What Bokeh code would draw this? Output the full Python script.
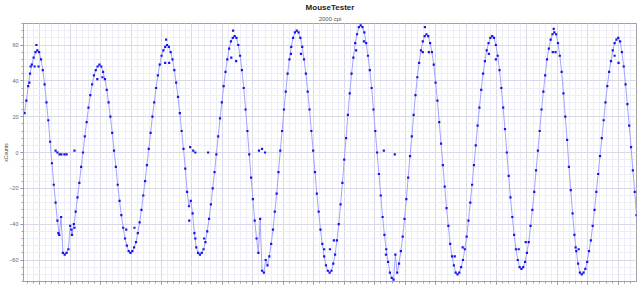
from bokeh.plotting import figure
from bokeh.models import Title, SingleIntervalTicker, Range1d, ColumnDataSource, CustomJSTickFormatter
from bokeh.embed import file_html
from bokeh.resources import INLINE

# ---- data ----
t_start = 950      # ms, time of first sample
t_step = 6         # ms between samples

x_counts = [
    22, 29, 37, 44, 49, 53, 56, 57,
    56, 52, 46, 38, 28, 18, 6, -6, -18, -28, -38, -46, -36, -56, -57,
    -56, -54, -41, -46, -40, -33, -25, -17, -8, 0, 9, 17, 25, 32, 38, 43, 46, 48, 49,
    48, 45, 41, 35, 28, 20, 11, 1, -8, -18, -27, -35, -42, -48, -52, -55, -56,
    -55, -53, -50, -45, -39, -32, -24, -16, -7, 2, 11, 20, 28, 36, 43, 49, 54, 57, 59, 60,
    59, 56, 52, 46, 39, 31, 22, 12, 2, -9, -22, -30, -27, -34, -45, -53, -56, -57,
    -56, -54, -50, -44, -37, -29, -20, -11, -1, 9, 19, 28, 37, 45, 52, 58, 62, 64, 65,
    64, 60, 54, 46, 36, 24, 12, -1, -14, -26, -38, -48, -56, -37, -66, -67,
    -60, -63, -58, -51, -43, -33, -23, -11, 1, 12, 24, 34, 44, 52, 59, 64, 67, 68,
    67, 64, 59, 52, 44, 34, 24, 12, 1, -11, -23, -33, -43, -51, -58, -63, -66, -67,
    -66, -62, -57, -49, -40, -29, -17, -4, 8, 21, 33, 44, 53, 61, 66, 70, 71,
    70, 67, 61, 54, 46, 36, 24, 12, 0, -12, -24, -36, -46, -54, -61, -67, -70, -71,
    -57, -67, -62, -55, -47, -37, -26, -14, -2, 9, 21, 32, 42, 50, 57, 62, 65, 66,
    65, 61, 56, 49, 39, 29, 17, 5, -7, -19, -31, -41, -51, -58, -63, -67, -68,
    -67, -64, -60, -54, -47, -38, -28, -18, -7, 4, 15, 25, 35, 44, 51, 57, 61, 64, 65,
    64, 60, 54, 46, 36, 25, 13, 0, -13, -25, -36, -46, -54, -60, -64, -65,
    -64, -61, -56, -50, -41, -32, -22, -10, 1, 12, 24, 34, 43, 52, 58, 63, 66, 67,
    66, 61, 54, 45, 33, 20, 7, -8, -21, -34, -46, -55, -62, -67, -68,
    -67, -65, -61, -55, -49, -41, -32, -22, -12, -2, 8, 18, 28, 37, 45, 51, 57, 61, 63, 64,
    62, 56, 48, 38, 27, 15, 3, -10, -22, -35, -45,
]

# stray samples off the main curve
stray_time = [966, 970, 983, 989, 996, 1061, 1104, 1114, 1189, 1206, 1284, 1311,
              1412, 1415, 1425, 1491, 1511, 1540, 1629, 1635, 1645, 1825, 1858,
              1934, 1953, 1966, 2039, 2065, 2137, 2258, 2265, 2278, 2363, 2389,
              2475, 2498, 2573, 2596, 2685, 2688, 2694, 2760, 2770, 2888, 2901]
stray_counts = [39, 48, 48, 60, 48, -45, -43, -42, 41, 42, -43, -42,
                50, 63, 50, -38, -48, -48, 53, 68, 51, 55, 55,
                -54, -54, -49, 57, 62, -57, 56, 70, 56, -58, -53,
                55, 52, -54, -50, 56, 69, 56, -53, -54, 54, 50]

# samples sitting near zero
zero_time = [1052, 1058, 1065, 1071, 1081, 1088, 1114, 1494, 1504, 1511, 1553,
             1720, 1730, 1740, 2130, 2166]
zero_counts = [1, 0, -1, -1, -1, -1, 1, 3, 1, 0, 0, 1, 2, 0, 1, -1]

time_ms = [t_start + t_step * i for i in range(len(x_counts))]

# ---- figure ----
FONT = "Liberation Sans"
p = figure(width=642, height=286, output_backend="svg", toolbar_location=None,
           title=None,
           x_range=Range1d(946.6, 2959.9), y_range=Range1d(-72, 72),
           min_border_left=22, min_border_right=6, min_border_bottom=5,
           min_border_top=0, background_fill_color="white",
           border_fill_color="white")

p.add_layout(Title(text="2000 cpi", align="center", text_font=FONT,
                   text_font_size="6px", text_font_style="normal",
                   text_color="#555555", standoff=3), "above")
p.add_layout(Title(text="MouseTester", align="center", text_font=FONT,
                   text_font_size="8px", text_font_style="bold",
                   text_color="#222222", standoff=1), "above")

p.outline_line_color = "#a0a0a0"
p.outline_line_width = 1

# axes
p.xaxis.ticker = SingleIntervalTicker(interval=100, num_minor_ticks=5)
p.yaxis.ticker = SingleIntervalTicker(interval=20, num_minor_ticks=5)
for ax in (p.xaxis[0], p.yaxis[0]):
    ax.axis_line_color = "#a0a0a0"
    ax.major_tick_line_color = "#808080"
    ax.minor_tick_line_color = "#a0a0a0"
    ax.major_tick_in = 0
    ax.minor_tick_in = 0
    ax.major_tick_out = 3
    ax.minor_tick_out = 2
p.xaxis.formatter = CustomJSTickFormatter(code="return '';")
p.xaxis.major_label_standoff = 0
p.yaxis.major_label_text_font = FONT
p.yaxis.major_label_text_font_size = "5.5px"
p.yaxis.major_label_text_color = "#666666"
p.yaxis.major_label_standoff = 2
p.yaxis.axis_label = "xCounts"
p.yaxis.axis_label_text_font = FONT
p.yaxis.axis_label_text_font_size = "5px"
p.yaxis.axis_label_text_font_style = "normal"
p.yaxis.axis_label_text_color = "#404040"
p.yaxis.axis_label_standoff = -3

# grids
for g in (p.xgrid[0], p.ygrid[0]):
    g.grid_line_color = "#d8d8e6"
    g.grid_line_width = 1
    g.minor_grid_line_color = "#ededf7"
    g.minor_grid_line_width = 1

src = ColumnDataSource(dict(t=time_ms, c=x_counts))
p.line("t", "c", source=src, line_color="#9a9aff", line_width=1, line_alpha=0.9)
p.scatter("t", "c", source=src, marker="square", size=2.2,
          fill_color="#1414f0", line_color=None)
p.scatter(stray_time, stray_counts, marker="square", size=2.2,
          fill_color="#1414f0", line_color=None)
p.scatter(zero_time, zero_counts, marker="square", size=2.2,
          fill_color="#1414f0", line_color=None)

open("out.html", "w").write(file_html(p, INLINE))
